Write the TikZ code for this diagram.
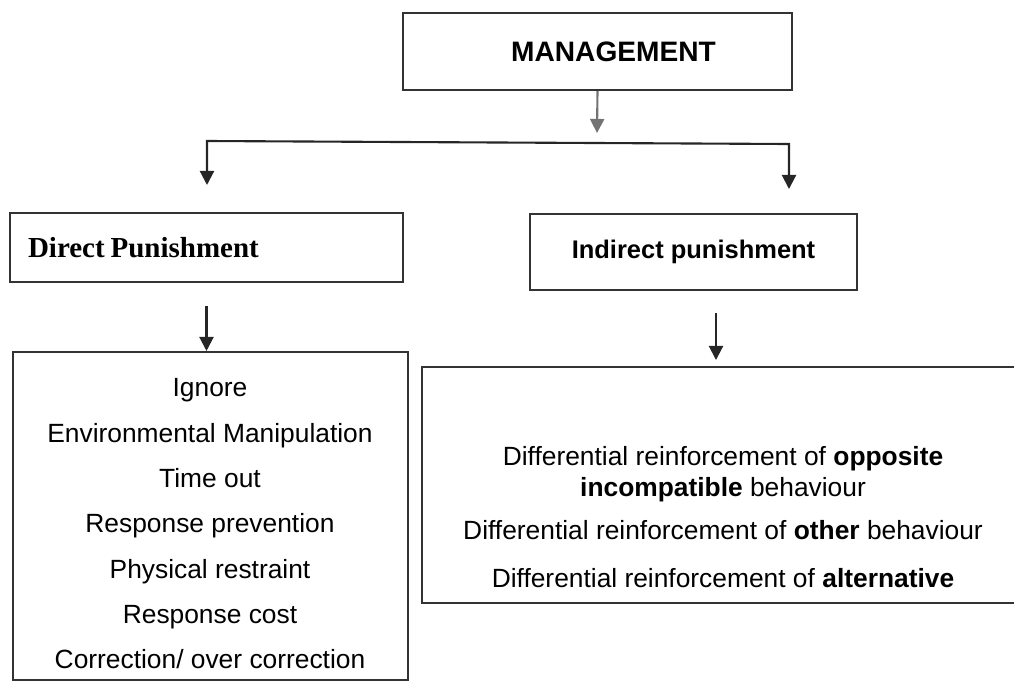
\documentclass[tikz,border=0pt]{standalone}
\usepackage{fontspec}
\setmainfont{Liberation Sans}
\newfontfamily\serifbf{Liberation Serif}
\usetikzlibrary{arrows.meta}

\begin{document}
\begin{tikzpicture}[x=0.02cm,y=-0.02cm]
        \tikzstyle{box}=[rectangle,draw=black!80,line width=1.2pt,inner sep=0pt]
        \tikzstyle{tip}=[-{Triangle[width=8pt,length=8pt]},line width=1.2pt,draw=black!85]
        \tikzstyle{twotip}=[{Triangle[width=8pt,length=8pt]}-{Triangle[width=8pt,length=8pt]},line width=1.2pt,draw=black!85]
        \useasboundingbox (0,0) rectangle (1014,683);
        \node at (597.5,51.5) [box,minimum width=7.78cm,minimum height=1.54cm] (mgmt) {\fontsize{16pt}{19pt}\selectfont\bfseries\hspace*{0.64cm}MANAGEMENT};
        \node at (206.5,247.5) [box,minimum width=7.86cm,minimum height=1.38cm,text width=7.14cm,align=left] (direct) {\serifbf\fontsize{16.5pt}{19pt}\selectfont\bfseries Direct Punishment};
        \node at (693.5,252) [box,minimum width=6.54cm,minimum height=1.52cm] (indirect) {\fontsize{14.5pt}{17pt}\selectfont\bfseries Indirect punishment};
        \node at (210.5,516) [box,minimum width=7.9cm,minimum height=6.56cm] (dirlist) {};
        \node at (210,524) [align=center,font={\fontsize{15pt}{25.8pt}\selectfont}] (dirtext) {Ignore\\Environmental Manipulation\\Time out\\Response prevention\\Physical restraint\\Response cost\\Correction/ over correction};
        \node at (731,485) [box,minimum width=12.36cm,minimum height=4.72cm] (indlist) {};
        \node at (723,517) [align=center,font={\fontsize{15pt}{17.6pt}\selectfont}] (indtext) {Differential reinforcement of \textbf{opposite}\\\textbf{incompatible} behaviour\\[6.8pt]Differential reinforcement of \textbf{other} behaviour\\[9.6pt]Differential reinforcement of \textbf{alternative}};
        \coordinate (split) at (597,133);
        \coordinate (barL) at (207,141);
        \coordinate (barR) at (789,144);
        \coordinate (ltip) at (207,185);
        \coordinate (rtip) at (789,189);
        \coordinate (indtail) at (716,313);
        \coordinate (indtip) at (716,360);
        \draw[tip,draw=black!55] (mgmt.south) -- (split);
        \draw[twotip] (ltip) -- (barL) -- (barR) -- (rtip);
        \draw[tip] ([yshift=-0.46cm]direct.south) -- (dirlist.north -| direct.south);
        \draw[tip] (indtail) -- (indtip);
        %\draw[tip] (indirect.south) -- (indlist.north);
\end{tikzpicture}
\end{document}
